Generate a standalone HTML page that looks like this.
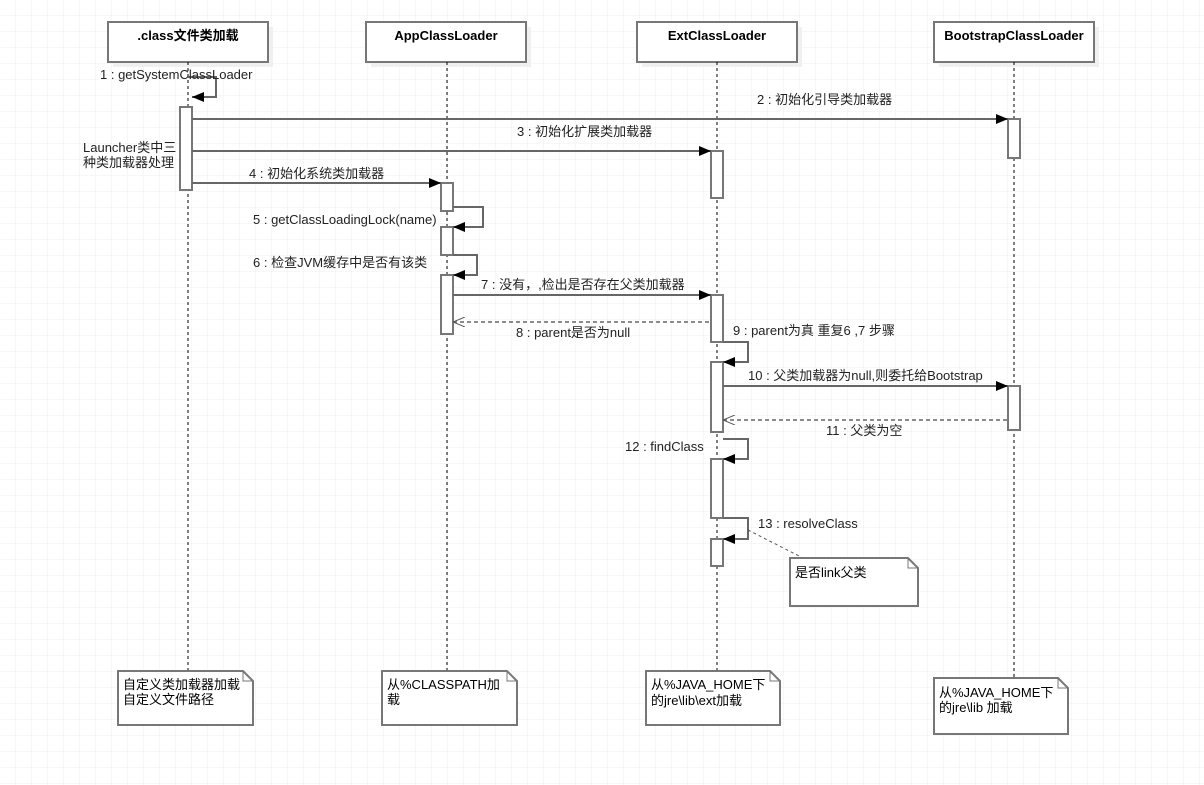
<!DOCTYPE html>
<html><head><meta charset="utf-8"><style>
html,body{margin:0;padding:0;background:#fff;}
svg{display:block;font-family:"Liberation Sans","Noto Sans CJK SC",sans-serif;}
</style></head><body>
<svg width="1204" height="785" viewBox="0 0 1204 785" xmlns="http://www.w3.org/2000/svg">
<defs>
<pattern id="g" width="16" height="16" patternUnits="userSpaceOnUse"><path d="M16 0V16M0 16H16" fill="none" stroke="#efefef" stroke-width="1"/></pattern>
<marker id="a" markerWidth="12" markerHeight="10" refX="12" refY="5" orient="auto" markerUnits="userSpaceOnUse"><path d="M0,0L12,5L0,10z" fill="#000"/></marker>
<marker id="o" markerWidth="12" markerHeight="10" refX="0" refY="5" orient="auto" markerUnits="userSpaceOnUse"><path d="M12,0L0,5L12,10" fill="none" stroke="#555" stroke-width="1"/></marker>
</defs>
<rect width="1204" height="785" fill="url(#g)"/>
<g fill="#f0f0f0"><rect x="113" y="27" width="160" height="40"/><rect x="371" y="27" width="160" height="40"/><rect x="642" y="27" width="160" height="40"/><rect x="939" y="27" width="160" height="40"/></g>
<g fill="#fff" stroke="#777" stroke-width="2"><rect x="108" y="22" width="160" height="40"/><rect x="366" y="22" width="160" height="40"/><rect x="637" y="22" width="160" height="40"/><rect x="934" y="22" width="160" height="40"/></g>
<g font-size="13" font-weight="bold" text-anchor="middle" fill="#000"><text x="188" y="40">.class文件类加载</text><text x="446" y="40">AppClassLoader</text><text x="717" y="40">ExtClassLoader</text><text x="1014" y="40">BootstrapClassLoader</text></g>
<g stroke="#000" stroke-dasharray="3,3" stroke-width="1"><line x1="188" y1="62" x2="188" y2="671"/><line x1="447" y1="62" x2="447" y2="671"/><line x1="717" y1="62" x2="717" y2="671"/><line x1="1014" y1="62" x2="1014" y2="678"/></g>
<g fill="#fff" stroke="#777" stroke-width="2">
<rect x="180" y="107" width="12" height="83"/>
<rect x="441" y="183" width="12" height="28"/><rect x="441" y="227" width="12" height="28"/><rect x="441" y="275" width="12" height="59"/>
<rect x="711" y="151" width="12" height="47"/><rect x="711" y="295" width="12" height="47"/><rect x="711" y="362" width="12" height="70"/><rect x="711" y="459" width="12" height="59"/><rect x="711" y="539" width="12" height="27"/>
<rect x="1008" y="119" width="12" height="39"/><rect x="1008" y="386" width="12" height="44"/>
</g>
<g stroke="#666" stroke-width="2" fill="none" marker-end="url(#a)">
<path d="M188 77H216V97H192"/>
<path d="M192 119H1008"/><path d="M192 151H711"/><path d="M192 183H441"/>
<path d="M453 207H483V227H453"/><path d="M453 255H477V275H453"/>
<path d="M453 295H711"/>
<path d="M723 342H748V362H723"/>
<path d="M723 386H1008"/>
<path d="M723 439H748V459H723"/>
<path d="M723 518H748V539H723"/>
</g>
<g stroke="#666" stroke-width="1.5" stroke-dasharray="4,3" fill="none" marker-start="url(#o)">
<path d="M453 322H711"/><path d="M723 420H1008"/>
</g>
<line x1="748" y1="530" x2="803" y2="558" stroke="#555" stroke-dasharray="3,3"/>
<g font-size="13" fill="#222">
<text x="100" y="79">1 : getSystemClassLoader</text>
<text x="757" y="104">2 : 初始化引导类加载器</text>
<text x="517" y="136">3 : 初始化扩展类加载器</text>
<text x="83" y="152">Launcher类中三</text><text x="83" y="167">种类加载器处理</text>
<text x="249" y="178">4 : 初始化系统类加载器</text>
<text x="253" y="224">5 : getClassLoadingLock(name)</text>
<text x="253" y="267">6 : 检查JVM缓存中是否有该类</text>
<text x="481" y="289">7 : 没有，,检出是否存在父类加载器</text>
<text x="516" y="337">8 : parent是否为null</text>
<text x="733" y="335">9 : parent为真 重复6 ,7 步骤</text>
<text x="748" y="380">10 : 父类加载器为null,则委托给Bootstrap</text>
<text x="826" y="435">11 : 父类为空</text>
<text x="625" y="451">12 : findClass</text>
<text x="758" y="528">13 : resolveClass</text>
</g>
<g fill="#fff" stroke="#777" stroke-width="2">
<path d="M790 558H908L918 568V606H790Z"/>
<path d="M118 671H243L253 681V725H118Z"/>
<path d="M382 671H507L517 681V725H382Z"/>
<path d="M646 671H770L780 681V725H646Z"/>
<path d="M934 678H1058L1068 688V734H934Z"/>
</g>
<g stroke="#777" fill="none" stroke-width="1"><path d="M908 558V568H918"/><path d="M243 671V681H253"/><path d="M507 671V681H517"/><path d="M770 671V681H780"/><path d="M1058 678V688H1068"/></g>
<g font-size="13" fill="#000">
<text x="795" y="577">是否link父类</text>
<text x="123" y="689">自定义类加载器加载</text><text x="123" y="704">自定义文件路径</text>
<text x="387" y="689">从%CLASSPATH加</text><text x="387" y="704">载</text>
<text x="651" y="689">从%JAVA_HOME下</text><text x="651" y="705">的jre\lib\ext加载</text>
<text x="939" y="697">从%JAVA_HOME下</text><text x="939" y="712">的jre\lib 加载</text>
</g>
</svg>
</body></html>
